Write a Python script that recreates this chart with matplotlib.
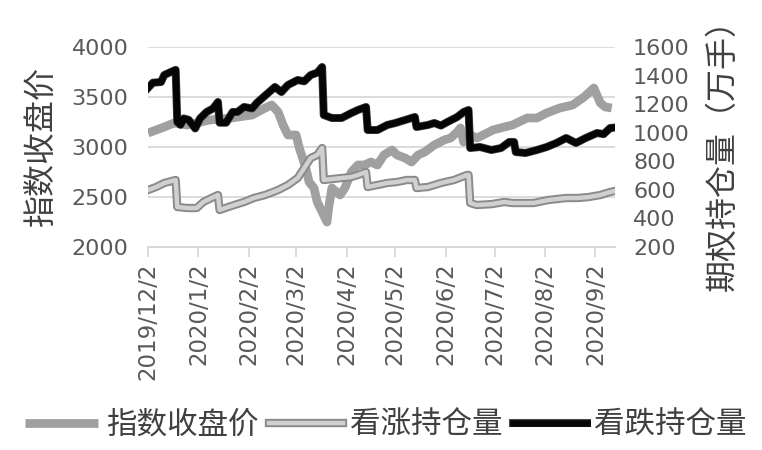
import numpy as np
import pandas as pd
import matplotlib
matplotlib.use("Agg")
from matplotlib import pyplot as plt
from matplotlib import patheffects as pe

plt.rcParams['font.family'] = ['Noto Sans CJK SC', 'DejaVu Sans']

# index close (left axis)
idx_dates = ["2019-12-02", "2019-12-12", "2019-12-18", "2019-12-26", "2020-01-09", "2020-01-22",
             "2020-02-04", "2020-02-12", "2020-02-16", "2020-02-20", "2020-02-23", "2020-02-26",
             "2020-03-02", "2020-03-04", "2020-03-06", "2020-03-08", "2020-03-10", "2020-03-13",
             "2020-03-15", "2020-03-18", "2020-03-21", "2020-03-22", "2020-03-24", "2020-03-29",
             "2020-04-01", "2020-04-05", "2020-04-09", "2020-04-13", "2020-04-17", "2020-04-21",
             "2020-04-25", "2020-04-30", "2020-05-03", "2020-05-08", "2020-05-12", "2020-05-16",
             "2020-05-20", "2020-05-26", "2020-06-01", "2020-06-05", "2020-06-09", "2020-06-11",
             "2020-06-13", "2020-06-17", "2020-06-21", "2020-06-25", "2020-07-01", "2020-07-08",
             "2020-07-13", "2020-07-22", "2020-07-28", "2020-08-03", "2020-08-11", "2020-08-19",
             "2020-08-26", "2020-09-01", "2020-09-05", "2020-09-08", "2020-09-12"]
idx_close = [3140, 3200, 3240, 3220, 3270, 3290,
             3320, 3390, 3420, 3350, 3220, 3120,
             3120, 2990, 2890, 2790, 2650, 2590,
             2450, 2350, 2250, 2390, 2590, 2520,
             2590, 2750, 2820, 2820, 2850, 2820,
             2920, 2970, 2920, 2890, 2850, 2920,
             2950, 3020, 3070, 3090, 3150, 3190,
             3050, 3120, 3090, 3120, 3170, 3200,
             3220, 3290, 3290, 3340, 3390, 3420,
             3500, 3590, 3440, 3400, 3390]

# call open interest (right axis)
call_dates = ["2019-12-02", "2019-12-07", "2019-12-12", "2019-12-19", "2019-12-20", "2019-12-26",
              "2020-01-01", "2020-01-05", "2020-01-10", "2020-01-14", "2020-01-15", "2020-01-24",
              "2020-01-30", "2020-02-05", "2020-02-12", "2020-02-20", "2020-02-26", "2020-03-03",
              "2020-03-07", "2020-03-11", "2020-03-15", "2020-03-18", "2020-03-19", "2020-03-30",
              "2020-04-05", "2020-04-09", "2020-04-14", "2020-04-15", "2020-04-21", "2020-04-27",
              "2020-05-03", "2020-05-09", "2020-05-14", "2020-05-15", "2020-05-22", "2020-05-30",
              "2020-06-07", "2020-06-15", "2020-06-16", "2020-06-17", "2020-06-21", "2020-06-30",
              "2020-07-08", "2020-07-13", "2020-07-26", "2020-08-04", "2020-08-15", "2020-08-22",
              "2020-08-29", "2020-09-05", "2020-09-11", "2020-09-13"]
call_oi = [599, 620, 648, 669, 480, 473,
           473, 515, 543, 564, 459, 494,
           515, 543, 564, 599, 634, 683,
           753, 823, 844, 893, 669, 683,
           690, 704, 725, 620, 634, 648,
           655, 669, 669, 613, 620, 648,
           669, 704, 704, 508, 494, 500,
           515, 508, 508, 529, 543, 543,
           550, 564, 585, 590]

# put open interest (right axis)
put_dates = ["2019-12-02", "2019-12-05", "2019-12-10", "2019-12-12", "2019-12-16", "2019-12-19",
             "2019-12-20", "2019-12-22", "2019-12-24", "2019-12-27", "2019-12-31", "2020-01-03",
             "2020-01-07", "2020-01-11", "2020-01-14", "2020-01-15", "2020-01-19", "2020-01-23",
             "2020-01-26", "2020-01-30", "2020-02-04", "2020-02-07", "2020-02-12", "2020-02-18",
             "2020-02-22", "2020-02-26", "2020-03-03", "2020-03-07", "2020-03-11", "2020-03-15",
             "2020-03-18", "2020-03-19", "2020-03-24", "2020-03-30", "2020-04-05", "2020-04-09",
             "2020-04-14", "2020-04-15", "2020-04-21", "2020-04-27", "2020-05-02", "2020-05-08",
             "2020-05-14", "2020-05-15", "2020-05-22", "2020-05-26", "2020-05-30", "2020-06-03",
             "2020-06-09", "2020-06-13", "2020-06-16", "2020-06-17", "2020-06-23", "2020-06-30",
             "2020-07-06", "2020-07-11", "2020-07-14", "2020-07-15", "2020-07-21", "2020-07-28",
             "2020-08-03", "2020-08-09", "2020-08-15", "2020-08-21", "2020-08-27", "2020-09-03",
             "2020-09-07", "2020-09-11", "2020-09-13"]
put_oi = [1313, 1350, 1355, 1404, 1425, 1440,
          1075, 1055, 1100, 1090, 1030, 1100,
          1145, 1170, 1215, 1070, 1070, 1145,
          1145, 1180, 1170, 1210, 1260, 1320,
          1285, 1334, 1369, 1360, 1404, 1420,
          1460, 1124, 1103, 1103, 1138, 1159,
          1180, 1019, 1019, 1054, 1068, 1089,
          1110, 1040, 1054, 1068, 1050, 1075,
          1110, 1145, 1159, 893, 900, 879,
          893, 935, 935, 865, 858, 879,
          900, 928, 963, 928, 963, 998,
          990, 1033, 1035]

tick_dates = ["2019-12-02", "2020-01-02", "2020-02-02", "2020-03-02", "2020-04-02",
              "2020-05-02", "2020-06-02", "2020-07-02", "2020-08-02", "2020-09-02"]
tick_labels = ["2019/12/2", "2020/1/2", "2020/2/2", "2020/3/2", "2020/4/2",
               "2020/5/2", "2020/6/2", "2020/7/2", "2020/8/2", "2020/9/2"]

fig = plt.figure(figsize=(7.62, 4.5), dpi=100)
ax = fig.add_axes([148 / 762, 1 - 247 / 450, 467 / 762, 200 / 450])
ax2 = ax.twinx()

l1, = ax.plot(pd.to_datetime(idx_dates), idx_close, color='#a0a0a0', lw=6.3,
              solid_joinstyle='round', solid_capstyle='butt', label='指数收盘价')
l2, = ax2.plot(pd.to_datetime(call_dates), call_oi, color='#d0d0d0', lw=3.2,
               solid_joinstyle='round', label='看涨持仓量',
               path_effects=[pe.Stroke(linewidth=6.0, foreground='#8a8a8a'), pe.Normal()])
l3, = ax2.plot(pd.to_datetime(put_dates), put_oi, color='#050505', lw=4.8,
               solid_joinstyle='round', label='看跌持仓量',
               path_effects=[pe.Stroke(linewidth=5.8, foreground='#4a4a4a'), pe.Normal()])

ax.set_xlim(pd.Timestamp("2019-12-02"), pd.Timestamp("2020-09-14"))
ax.set_ylim(2000, 4000)
ax.set_yticks(np.arange(2000, 4001, 500))
ax2.set_ylim(200, 1600)
ax2.set_yticks(np.arange(200, 1601, 200))
ax.set_xticks(pd.to_datetime(tick_dates))
ax.set_xticklabels(tick_labels, rotation=90, family='DejaVu Sans')

ax.grid(axis='y', color='#d9d9d9', lw=1.3)
ax.set_axisbelow(True)
for a in (ax, ax2):
    for s in ('top', 'left', 'right'):
        a.spines[s].set_visible(False)
    a.spines['bottom'].set_color('#d9d9d9')
    a.spines['bottom'].set_linewidth(1.3)

ax.tick_params(axis='y', length=0, pad=14, labelsize=16, labelcolor='#595959')
ax2.tick_params(axis='y', length=0, pad=13, labelsize=16, labelcolor='#595959')
ax.tick_params(axis='x', length=7, width=1.3, color='#d9d9d9', pad=4,
               labelsize=16.5, labelcolor='#595959')
for t in ax.get_yticklabels() + ax2.get_yticklabels():
    t.set_family('DejaVu Sans')

ax.set_ylabel('指数收盘价', fontsize=23, color='#404040', labelpad=10)
ax2.set_ylabel('期权持仓量（万手）', fontsize=23, color='#404040', labelpad=12)

fig.legend(handles=[l1, l2, l3], loc='center', bbox_to_anchor=(386 / 762, 1 - 425 / 450),
           ncol=3, frameon=False, fontsize=22, handlelength=2.4, handletextpad=0.25,
           columnspacing=0.35, labelcolor='#404040')

fig.savefig('out.png', dpi=100)
